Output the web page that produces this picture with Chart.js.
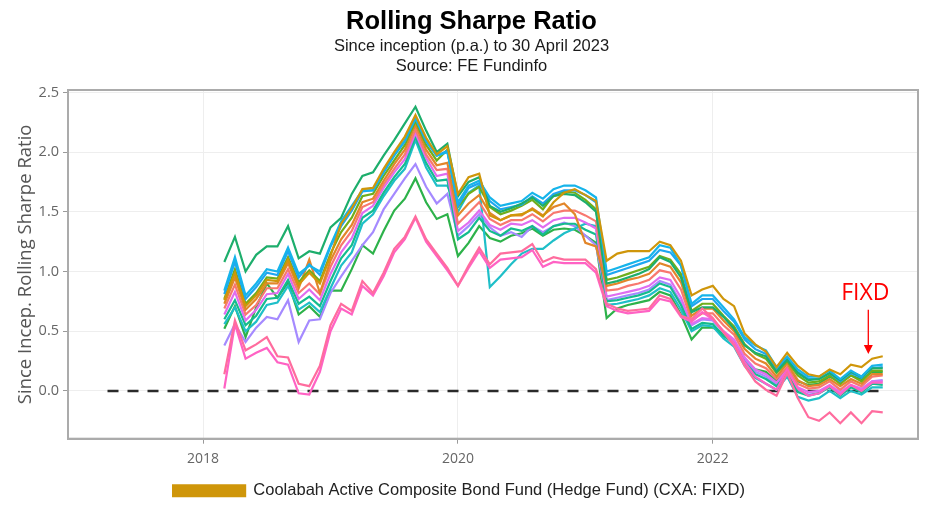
<!DOCTYPE html>
<html>
<head>
<meta charset="utf-8">
<title>Rolling Sharpe Ratio</title>
<script src="https://cdn.jsdelivr.net/npm/chart.js@4.4.1/dist/chart.umd.min.js"></script>
<style>
  html, body { margin: 0; padding: 0; background: #fff; }
  #wrap { width: 943px; height: 512px; }
</style>
</head>
<body>
<div id="wrap"><canvas id="chart"></canvas></div>
<script>
// Month-end dates, Feb 2018 to Apr 2023
const months = [
    "2018-02", "2018-03", "2018-04", "2018-05", "2018-06", "2018-07", "2018-08", "2018-09", "2018-10", "2018-11", "2018-12",
    "2019-01", "2019-02", "2019-03", "2019-04", "2019-05", "2019-06", "2019-07", "2019-08", "2019-09", "2019-10", "2019-11", "2019-12",
    "2020-01", "2020-02", "2020-03", "2020-04", "2020-05", "2020-06", "2020-07", "2020-08", "2020-09", "2020-10", "2020-11", "2020-12",
    "2021-01", "2021-02", "2021-03", "2021-04", "2021-05", "2021-06", "2021-07", "2021-08", "2021-09", "2021-10", "2021-11", "2021-12",
    "2022-01", "2022-02", "2022-03", "2022-04", "2022-05", "2022-06", "2022-07", "2022-08", "2022-09", "2022-10", "2022-11", "2022-12",
    "2023-01", "2023-02", "2023-03", "2023-04"
];

// Coolabah Active Composite Bond Fund (FIXD)
const fixd = [
    0.76, 0.99, 0.71, 0.80, 0.93, 0.92, 1.10, 0.89, 0.99, 0.90, 1.13,
    1.40, 1.53, 1.69, 1.70, 1.86, 2.00, 2.13, 2.31, 2.12, 1.98, 2.05, 1.65,
    1.79, 1.82, 1.47, 1.43, 1.47, 1.48, 1.52, 1.46, 1.58, 1.66, 1.69, 1.64,
    1.59, 1.09, 1.15, 1.17, 1.17, 1.17, 1.25, 1.22, 1.09, 0.80, 0.85, 0.88,
    0.77, 0.71, 0.48, 0.39, 0.33, 0.20, 0.32, 0.21, 0.14, 0.12, 0.18, 0.14,
    0.22, 0.20, 0.27, 0.29
];

// Peer funds
const peerTopGreen = [
    1.08, 1.29, 1.00, 1.14, 1.21, 1.21, 1.38, 1.11, 1.17, 1.15, 1.37,
    1.45, 1.65, 1.80, 1.83, 1.97, 2.10, 2.24, 2.38, 2.18, 2.00, 2.07, 1.63,
    1.75, 1.79, 1.55, 1.50, 1.53, 1.57, 1.62, 1.55, 1.63, 1.65, 1.64, 1.58,
    1.50, 0.90, 0.92, 0.95, 0.98, 1.02, 1.12, 1.08, 0.95, 0.66, 0.70, 0.70,
    0.62, 0.52, 0.38, 0.32, 0.29, 0.16, 0.26, 0.15, 0.09, 0.10, 0.15, 0.09,
    0.16, 0.12, 0.19, 0.19
];
const peerLowGreen = [
    0.52, 0.71, 0.45, 0.70, 0.90, 0.78, 0.91, 0.64, 0.71, 0.62, 0.84,
    0.84, 1.02, 1.22, 1.15, 1.34, 1.51, 1.61, 1.78, 1.58, 1.44, 1.48, 1.13,
    1.24, 1.38, 1.28, 1.25, 1.30, 1.32, 1.36, 1.30, 1.35, 1.36, 1.35, 1.30,
    1.24, 0.61, 0.69, 0.72, 0.74, 0.76, 0.83, 0.80, 0.64, 0.43, 0.53, 0.53,
    0.48, 0.40, 0.27, 0.18, 0.16, 0.08, 0.19, 0.08, 0.05, 0.06, 0.12, 0.07,
    0.13, 0.10, 0.16, 0.16
];
const peerPurple = [
    0.38, 0.56, 0.41, 0.53, 0.62, 0.60, 0.76, 0.41, 0.59, 0.60, 0.82,
    0.96, 1.09, 1.22, 1.33, 1.52, 1.65, 1.78, 1.90, 1.71, 1.57, 1.65, 1.30,
    1.38, 1.48, 1.37, 1.30, 1.33, 1.29, 1.38, 1.33, 1.38, 1.41, 1.38, 1.30,
    1.22, 0.76, 0.78, 0.80, 0.82, 0.85, 0.92, 0.89, 0.74, 0.55, 0.60, 0.59,
    0.49, 0.41, 0.26, 0.16, 0.12, 0.05, 0.16, 0.01, -0.03, -0.02, 0.04, -0.02,
    0.04, 0.01, 0.08, 0.09
];
const peerPinkA = [
    0.14, 0.59, 0.34, 0.39, 0.45, 0.29, 0.28, 0.06, 0.04, 0.21, 0.55,
    0.73, 0.67, 0.92, 0.82, 0.99, 1.19, 1.29, 1.46, 1.27, 1.15, 1.03, 0.88,
    1.05, 1.20, 1.06, 1.15, 1.16, 1.17, 1.23, 1.08, 1.12, 1.10, 1.10, 1.10,
    1.02, 0.73, 0.69, 0.67, 0.68, 0.69, 0.80, 0.77, 0.63, 0.60, 0.69, 0.61,
    0.49, 0.38, 0.21, 0.08, 0.01, -0.04, 0.15, -0.06, -0.22, -0.25, -0.18, -0.27,
    -0.18, -0.27, -0.17, -0.18
];
const peerPinkB = [
    0.02, 0.56, 0.27, 0.32, 0.36, 0.24, 0.22, -0.02, -0.03, 0.16, 0.50,
    0.69, 0.64, 0.88, 0.80, 0.96, 1.16, 1.27, 1.45, 1.25, 1.13, 1.01, 0.88,
    1.03, 1.17, 1.03, 1.10, 1.11, 1.12, 1.18, 1.04, 1.08, 1.07, 1.07, 1.07,
    0.99, 0.71, 0.67, 0.65, 0.66, 0.67, 0.77, 0.75, 0.62, 0.58, 0.66, 0.60,
    0.50, 0.40, 0.24, 0.12, 0.06, 0.01, 0.18, 0.02, -0.04, -0.02, 0.04, -0.03,
    0.05, 0.00, 0.07, 0.07
];
const peerCyan = [
    0.84, 1.12, 0.80, 0.90, 1.02, 1.00, 1.20, 0.98, 1.05, 1.00, 1.22,
    1.42, 1.55, 1.68, 1.68, 1.84, 1.98, 2.10, 2.28, 2.10, 1.97, 2.00, 1.58,
    1.72, 1.76, 1.62, 1.55, 1.57, 1.59, 1.66, 1.61, 1.69, 1.72, 1.72, 1.68,
    1.62, 1.00, 1.03, 1.06, 1.09, 1.12, 1.22, 1.20, 1.05, 0.73, 0.80, 0.80,
    0.70, 0.60, 0.45, 0.38, 0.34, 0.20, 0.29, 0.18, 0.12, 0.12, 0.17, 0.10,
    0.17, 0.12, 0.21, 0.22
];
const peerBlue = [
    0.81, 1.08, 0.77, 0.87, 0.99, 0.97, 1.17, 0.95, 1.06, 0.97, 1.21,
    1.38, 1.51, 1.67, 1.68, 1.83, 1.97, 2.09, 2.29, 2.09, 1.97, 2.01, 1.55,
    1.70, 1.74, 1.59, 1.52, 1.54, 1.56, 1.63, 1.57, 1.65, 1.68, 1.68, 1.64,
    1.58, 0.97, 1.00, 1.03, 1.06, 1.09, 1.18, 1.16, 1.05, 0.71, 0.77, 0.77,
    0.67, 0.58, 0.43, 0.35, 0.31, 0.18, 0.27, 0.16, 0.10, 0.10, 0.15, 0.08,
    0.15, 0.11, 0.19, 0.20
];
const peerOlive = [
    0.77, 1.02, 0.73, 0.82, 0.95, 0.94, 1.12, 0.91, 1.01, 0.92, 1.15,
    1.33, 1.45, 1.63, 1.65, 1.80, 1.93, 2.06, 2.26, 2.06, 1.93, 2.02, 1.54,
    1.65, 1.71, 1.54, 1.48, 1.51, 1.55, 1.60, 1.52, 1.64, 1.67, 1.66, 1.60,
    1.52, 0.93, 0.95, 0.98, 1.01, 1.04, 1.13, 1.10, 0.98, 0.67, 0.73, 0.73,
    0.63, 0.54, 0.39, 0.31, 0.27, 0.15, 0.25, 0.13, 0.07, 0.08, 0.13, 0.06,
    0.13, 0.08, 0.17, 0.17
];
const peerOrange = [
    0.73, 0.95, 0.68, 0.77, 0.90, 0.90, 1.07, 0.86, 1.10, 0.82, 1.09,
    1.27, 1.39, 1.58, 1.61, 1.76, 1.90, 2.02, 2.23, 2.02, 1.89, 1.91, 1.47,
    1.57, 1.64, 1.49, 1.43, 1.47, 1.47, 1.53, 1.47, 1.54, 1.57, 1.48, 1.24,
    1.21, 0.88, 0.90, 0.93, 0.95, 0.98, 1.07, 1.04, 0.91, 0.63, 0.69, 0.69,
    0.59, 0.50, 0.35, 0.27, 0.23, 0.12, 0.23, 0.09, 0.04, 0.05, 0.10, 0.04,
    0.10, 0.06, 0.14, 0.14
];
const peerSalmon = [
    0.69, 0.89, 0.64, 0.72, 0.86, 0.86, 1.02, 0.82, 0.90, 0.81, 1.04,
    1.22, 1.34, 1.54, 1.58, 1.73, 1.86, 1.98, 2.19, 1.98, 1.85, 1.86, 1.40,
    1.49, 1.58, 1.44, 1.39, 1.43, 1.43, 1.48, 1.42, 1.49, 1.51, 1.51, 1.47,
    1.42, 0.84, 0.85, 0.88, 0.90, 0.93, 1.01, 0.99, 0.85, 0.59, 0.65, 0.65,
    0.55, 0.47, 0.31, 0.23, 0.19, 0.10, 0.20, 0.06, 0.02, 0.03, 0.08, 0.01,
    0.08, 0.04, 0.12, 0.13
];
const peerViolet = [
    0.64, 0.83, 0.59, 0.68, 0.81, 0.82, 0.98, 0.77, 0.85, 0.76, 0.98,
    1.16, 1.28, 1.49, 1.55, 1.70, 1.83, 1.94, 2.16, 1.95, 1.80, 1.82, 1.34,
    1.41, 1.51, 1.39, 1.35, 1.40, 1.39, 1.43, 1.37, 1.43, 1.45, 1.45, 1.41,
    1.36, 0.79, 0.81, 0.83, 0.85, 0.88, 0.95, 0.93, 0.78, 0.56, 0.61, 0.60,
    0.50, 0.43, 0.28, 0.18, 0.14, 0.07, 0.18, 0.03, -0.01, 0.00, 0.05, -0.01,
    0.05, 0.02, 0.08, 0.08
];
const peerTealGreen = [
    0.60, 0.76, 0.55, 0.63, 0.77, 0.78, 0.93, 0.73, 0.79, 0.71, 0.92,
    1.11, 1.22, 1.45, 1.51, 1.66, 1.79, 1.90, 2.13, 1.91, 1.76, 1.77, 1.27,
    1.33, 1.45, 1.34, 1.30, 1.36, 1.34, 1.38, 1.31, 1.38, 1.40, 1.40, 1.35,
    1.31, 0.75, 0.76, 0.78, 0.80, 0.83, 0.90, 0.87, 0.72, 0.52, 0.57, 0.56,
    0.46, 0.40, 0.24, 0.14, 0.10, 0.04, 0.15, -0.01, -0.04, -0.02, 0.03, -0.04,
    0.03, -0.01, 0.06, 0.05
];
const peerTealCyan = [
    0.56, 0.70, 0.50, 0.58, 0.72, 0.74, 0.88, 0.68, 0.74, 0.66, 0.86,
    1.05, 1.16, 1.40, 1.48, 1.63, 1.76, 1.86, 2.10, 1.87, 1.72, 1.72, 1.50,
    1.66, 1.72, 0.87, 0.96, 1.06, 1.15, 1.19, 1.19, 1.26, 1.32, 1.36, 1.40,
    1.38, 0.72, 0.73, 0.75, 0.77, 0.80, 0.86, 0.83, 0.68, 0.50, 0.55, 0.54,
    0.44, 0.37, 0.21, 0.11, 0.06, 0.01, 0.12, -0.05, -0.08, -0.06, 0.00, -0.06,
    0.00, -0.03, 0.03, 0.03
];

const xTicks = [2018, 2020, 2022];
const yTicks = [0.0, 0.5, 1.0, 1.5, 2.0, 2.5];
const zeroLineSpan = [2017.25, 2023.31];

const titleText = "Rolling Sharpe Ratio";
const subtitleLines = ["Since inception (p.a.) to 30 April 2023", "Source: FE Fundinfo"];
const fixdLabel = "Coolabah Active Composite Bond Fund (Hedge Fund) (CXA: FIXD)";

// Series list, drawn top to bottom (first entry ends up on top)
const series = [
    { label: fixdLabel, values: fixd, color: "#CF960A" },
    { label: "Peer 1", values: peerPinkA, color: "#FF6C9E" },
    { label: "Peer 2", values: peerPinkB, color: "#FF62C4" },
    { label: "Peer 3", values: peerCyan, color: "#16B4EA" },
    { label: "Peer 4", values: peerTopGreen, color: "#1DAE6C" },
    { label: "Peer 5", values: peerBlue, color: "#1FA6F0" },
    { label: "Peer 6", values: peerOlive, color: "#6FAE1B" },
    { label: "Peer 7", values: peerOrange, color: "#E2862A" },
    { label: "Peer 8", values: peerSalmon, color: "#F8786F" },
    { label: "Peer 9", values: peerViolet, color: "#E06DF0" },
    { label: "Peer 10", values: peerTealGreen, color: "#14BC8E" },
    { label: "Peer 11", values: peerTealCyan, color: "#1FBFC8" },
    { label: "Peer 12", values: peerPurple, color: "#A58AFF" },
    { label: "Peer 13", values: peerLowGreen, color: "#2DB24A" }
];

// "2018-02" -> month-end as decimal year
function toYear(m) {
    const parts = m.split("-");
    return Number(parts[0]) + Number(parts[1]) / 12;
}

const xs = months.map(toYear);

const datasets = series.map((s) => ({
    label: s.label,
    data: s.values.map((v, i) => ({ x: xs[i], y: v })),
    borderColor: s.color,
    backgroundColor: s.color,
    borderWidth: 2.2,
    pointRadius: 0,
    tension: 0
}));

datasets.push({
    label: "zero",
    data: zeroLineSpan.map((x) => ({ x: x, y: 0 })),
    borderColor: "#2a2a2a",
    borderWidth: 2.6,
    borderDash: [11, 9],
    pointRadius: 0
});

// Title block centred on the whole page (the legend is centred a bit further left)
const pageTitle = {
    id: "pageTitle",
    afterDraw(chart) {
        const { ctx, width } = chart;
        const cx = width / 2;
        ctx.save();
        ctx.textAlign = "center";
        ctx.textBaseline = "middle";
        ctx.fillStyle = "#000";
        ctx.font = "bold 25.5px 'Liberation Sans', Arial, sans-serif";
        ctx.fillText(titleText, cx, 22);
        ctx.fillStyle = "#1a1a1a";
        ctx.font = "16.5px 'Liberation Sans', Arial, sans-serif";
        subtitleLines.forEach((line, i) => ctx.fillText(line, cx, 46 + i * 20));
        ctx.restore();
    }
};

// Grey frame all round the plot panel
const panelFrame = {
    id: "panelFrame",
    beforeDatasetsDraw(chart) {
        const { ctx, chartArea: a } = chart;
        ctx.save();
        ctx.strokeStyle = "#ababab";
        ctx.lineWidth = 2;
        ctx.strokeRect(a.left, a.top, a.right - a.left, a.bottom - a.top);
        ctx.restore();
    }
};

// Red "FIXD" label with arrow pointing at the fund's line
const fixdCallout = {
    id: "fixdCallout",
    afterDatasetsDraw(chart) {
        const { ctx, scales } = chart;
        const px = scales.x.getPixelForValue(2023.22);
        const textY = scales.y.getPixelForValue(0.82);
        const top = scales.y.getPixelForValue(0.68);
        const tip = scales.y.getPixelForValue(0.31);
        ctx.save();
        ctx.fillStyle = "#FF0000";
        ctx.strokeStyle = "#FF0000";
        ctx.font = "23px 'Open Sans'";
        ctx.textAlign = "center";
        ctx.textBaseline = "middle";
        ctx.fillText("FIXD", px - 3, textY);
        ctx.lineWidth = 1.3;
        ctx.beginPath();
        ctx.moveTo(px, top);
        ctx.lineTo(px, tip - 8);
        ctx.stroke();
        ctx.beginPath();
        ctx.moveTo(px - 4.5, tip - 9);
        ctx.lineTo(px + 4.5, tip - 9);
        ctx.lineTo(px, tip);
        ctx.closePath();
        ctx.fill();
        ctx.restore();
    }
};

const ctx = document.getElementById("chart").getContext("2d");

new Chart(ctx, {
    type: "line",
    data: { datasets: datasets },
    plugins: [pageTitle, panelFrame, fixdCallout],
    options: {
        responsive: true,
        maintainAspectRatio: false,
        animation: false,
        layout: { padding: { top: 90, right: 25, bottom: 3, left: 0 } },
        plugins: {
            title: { display: false },
            subtitle: { display: false },
            legend: {
                display: true,
                position: "bottom",
                labels: {
                    filter: (item) => item.text === fixdLabel,
                    boxWidth: 72,
                    boxHeight: 11,
                    color: "#222",
                    font: { family: "'Liberation Sans', Arial, sans-serif", size: 16.5 },
                    padding: 8
                }
            },
            tooltip: { enabled: false }
        },
        scales: {
            x: {
                type: "linear",
                min: 2016.94,
                max: 2023.61,
                afterBuildTicks: (s) => { s.ticks = xTicks.map((v) => ({ value: v })); },
                ticks: {
                    color: "#666",
                    font: { family: "'Open Sans', sans-serif", size: 14 },
                    padding: 7,
                    callback: (v) => String(v)
                },
                grid: { color: "#eeeeee", tickColor: "#9a9a9a", tickLength: 5 },
                border: { color: "#ababab", width: 2 }
            },
            y: {
                min: -0.4,
                max: 2.52,
                afterBuildTicks: (s) => { s.ticks = yTicks.map((v) => ({ value: v })); },
                afterFit: (s) => { s.width = 68; },
                ticks: {
                    color: "#666",
                    font: { family: "'Open Sans', sans-serif", size: 14.5 },
                    padding: 4,
                    callback: (v) => v.toFixed(1)
                },
                grid: { color: "#eeeeee", tickColor: "#9a9a9a", tickLength: 5 },
                border: { color: "#ababab", width: 2 },
                title: {
                    display: true,
                    text: "Since Incep. Rolling Sharpe Ratio",
                    color: "#555",
                    font: { family: "'Open Sans', sans-serif", size: 18.5 },
                    padding: { top: 15, bottom: 0 }
                }
            }
        }
    }
});
</script>
</body>
</html>
